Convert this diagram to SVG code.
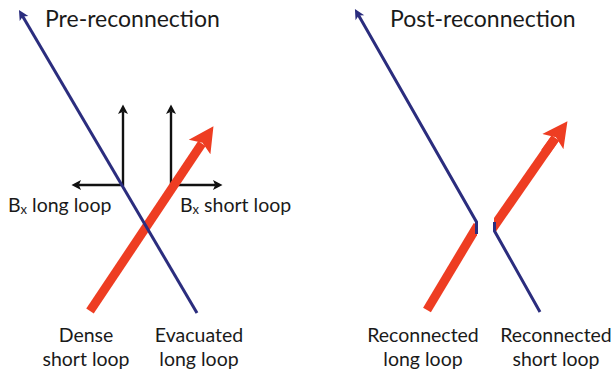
<svg xmlns="http://www.w3.org/2000/svg" width="614" height="374" viewBox="0 0 614 374">
<style>
text{font-family:Lato,"Open Sans","Liberation Sans",sans-serif;fill:#1a1a1a}
.title{font-size:23px}
.lbl{font-size:19.5px}
.mid{text-anchor:middle}
.blue{stroke:#2b2d7e;stroke-width:3;fill:none;stroke-linejoin:miter}
.red{stroke:#ee3d22;stroke-width:9;fill:none}
.redf{fill:#ee3d22;stroke:none}
.blk{stroke:#111;stroke-width:2.4;fill:none}
</style>
<defs>
<marker id="ab" markerUnits="userSpaceOnUse" markerWidth="12" markerHeight="12" viewBox="0 -6 11 12" refX="3" refY="0" orient="auto">
<path d="M0,-5 L10,0 L0,5 L2.5,0 Z" fill="#2b2d7e"/>
</marker>
<marker id="ar" markerUnits="userSpaceOnUse" markerWidth="26" markerHeight="28" viewBox="0 -13 25 26" refX="4" refY="0" orient="auto">
<path d="M0,-12.5 L24,0 L0,12.5 L5,0 Z" fill="#ee3d22"/>
</marker>
<marker id="ak" markerUnits="userSpaceOnUse" markerWidth="11" markerHeight="11" viewBox="0 -5.5 10 11" refX="2" refY="0" orient="auto">
<path d="M0,-5 L9.5,0 L0,5 L2.2,0 Z" fill="#111"/>
</marker>
</defs>
<g id="connectors">
<g id="bx-arrows">
<line class="blk" x1="123" y1="186" x2="123" y2="112" marker-end="url(#ak)"/>
<line class="blk" x1="124" y1="185" x2="79" y2="185" marker-end="url(#ak)"/>
<line class="blk" x1="171" y1="186" x2="171" y2="112" marker-end="url(#ak)"/>
<line class="blk" x1="170" y1="185" x2="215" y2="185" marker-end="url(#ak)"/>
</g>
<line id="pre-red" class="red" x1="90" y1="311" x2="201.9" y2="143.6" marker-end="url(#ar)"/>
<line id="pre-blue" class="blue" x1="197" y1="313" x2="22.5" y2="16" marker-end="url(#ab)"/>
<polygon id="post-red-left" class="redf" points="423.1,307.7 473.8,223 477,225 477,235.3 430.9,312.3"/>
<g id="post-red-right">
<polygon class="redf" points="494,229 494,218 551.6,135.6 559,140.8 496,231.4"/>
<line class="red" x1="545" y1="152.5" x2="555.3" y2="138.2" marker-end="url(#ar)"/>
</g>
<polyline id="post-blue-left" class="blue" points="476.5,234 476.5,222 358.4,15.1" marker-end="url(#ab)"/>
<polyline id="post-blue-right" class="blue" points="494.5,222 494.5,231 540,312"/>
</g>
<g id="title-pre"><text class="title" x="45" y="27">Pre-reconnection</text></g>
<g id="title-post"><text class="title" x="390" y="27">Post-reconnection</text></g>
<g id="bx-long"><text class="lbl" x="8" y="212">B<tspan font-size="13" dy="2">x</tspan><tspan dy="-2"> long loop</tspan></text></g>
<g id="bx-short"><text class="lbl" x="180" y="212">B<tspan font-size="13" dy="2">x</tspan><tspan dy="-2"> short loop</tspan></text></g>
<g id="dense"><text class="lbl mid" x="86" y="342">Dense</text><text class="lbl mid" x="86" y="366">short loop</text></g>
<g id="evacuated"><text class="lbl mid" x="199" y="342">Evacuated</text><text class="lbl mid" x="199" y="366">long loop</text></g>
<g id="reconn-long"><text class="lbl mid" x="423" y="342">Reconnected</text><text class="lbl mid" x="423" y="366">long loop</text></g>
<g id="reconn-short"><text class="lbl mid" x="556" y="342">Reconnected</text><text class="lbl mid" x="556" y="366">short loop</text></g>
</svg>
